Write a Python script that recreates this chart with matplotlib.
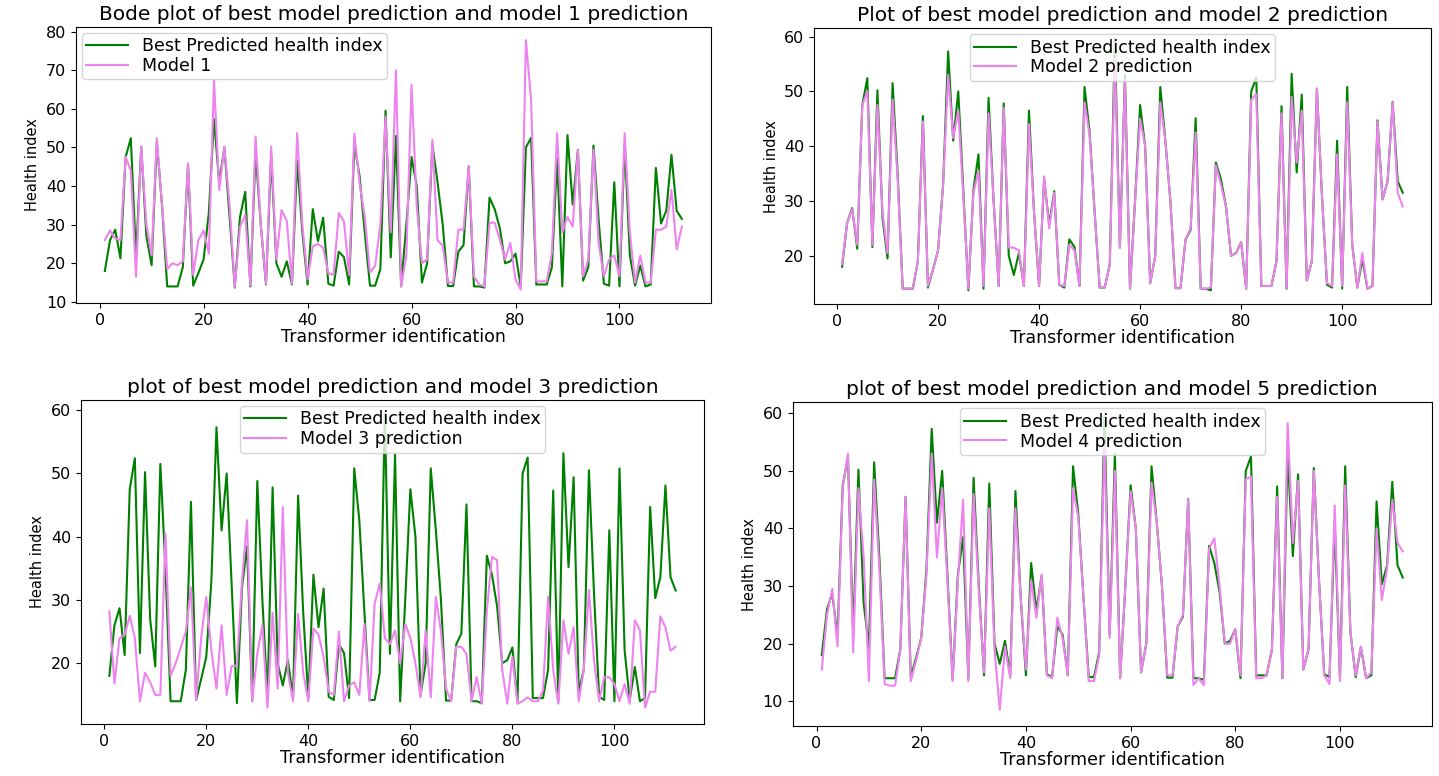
import matplotlib
matplotlib.use('Agg')
import matplotlib.pyplot as plt
import numpy as np

# transformer ids 1..112
transformer_id = np.arange(1, 113)

best = [18, 26, 28.7, 21.3, 47.5, 52.4, 21.6, 50.2, 27, 19.5,
        51.5, 35, 14, 14, 14, 19, 45.5, 14.2, 17.5, 21,
        33, 57.3, 41, 50, 32, 13.7, 32, 38.5, 14, 48.8,
        30, 14.5, 47.8, 20, 16.5, 20.5, 14.5, 46.5, 28, 14.5,
        34, 25.7, 31.8, 14.7, 14.2, 23, 21.6, 14.5, 50.8, 42.6,
        28, 14.2, 14.2, 18.5, 59.5, 21.5, 53, 14, 30, 47.5,
        40, 15, 20, 50.8, 41, 30, 14.1, 14.1, 23, 24.7,
        45.1, 14, 14, 13.7, 37, 34, 29, 20, 20.5, 22.5,
        14, 50, 52.5, 14.5, 14.5, 14.5, 19, 47.3, 14, 53.2,
        35.2, 49.4, 15.5, 19, 50.5, 31, 14.7, 14.2, 41, 14,
        50.8, 22, 14.2, 19.4, 14, 14.5, 44.7, 30.3, 33.6, 48.1,
        33.6, 31.5]

model1 = [26, 28.5, 26.4, 26, 47.6, 44, 16.5, 50.2, 30, 22,
          52.4, 35, 18.5, 20, 19.5, 20.5, 45.9, 17, 26, 28.5,
          22.6, 67.5, 39, 50.2, 35, 13.9, 29.4, 32.5, 14.3, 52.8,
          30, 14.7, 50.2, 21, 33.8, 31, 14.7, 53.7, 30, 15.8,
          24.4, 25, 24, 17.4, 17, 33, 30.8, 17, 53.6, 40.8,
          32, 17.6, 19.3, 30, 58, 28, 70, 14, 22, 66.2,
          34.8, 20, 21, 52, 26, 24.5, 15, 15, 28.7, 28.7,
          45, 16.6, 14.5, 14, 30.5, 30.5, 26, 21, 25.3, 15.8,
          13.2, 77.8, 62.3, 15.3, 15.3, 15.3, 22.7, 53.7, 28, 32,
          29.5, 49.4, 16.6, 21, 49.4, 25, 16.6, 21, 22, 16.6,
          53.7, 28, 15, 22, 15, 15, 28.7, 28.7, 29.5, 39,
          23.6, 29.5]

model2 = [18.5, 26, 28.5, 22, 47.5, 50, 22, 47.5, 28, 20.5,
          48.5, 34, 14, 14, 14, 19, 44.5, 14.5, 17.5, 21,
          33, 53, 41.5, 46.5, 31, 14, 31.5, 35.5, 14.5, 46,
          30, 14.5, 47, 21.5, 21.5, 21, 14.5, 44, 28, 14.5,
          34.5, 25, 31.5, 14.7, 14.5, 22, 21, 14.5, 48, 42,
          28, 14.2, 14.2, 18.5, 56, 21.5, 52, 14, 30, 45,
          40, 15, 20, 48, 41, 30, 14.1, 14.1, 23, 25,
          42.5, 14, 14, 14.2, 36.5, 33, 29, 20, 20.5, 22.5,
          14, 48.5, 49.5, 14.5, 14.5, 14.5, 19, 46, 14, 49,
          37, 46.5, 15.5, 19, 50.5, 31, 15, 14.5, 38.5, 14.5,
          48, 22, 14.2, 20.5, 14, 14.5, 44.5, 30.3, 33.6, 48,
          31.5, 29]

model3 = [28.2, 16.8, 24, 24.5, 27.5, 24, 14, 18.5, 17, 15,
          15, 40.5, 18, 20, 22.5, 25, 32, 14.2, 24, 30.5,
          22, 16, 26, 15, 19.6, 19.6, 33, 42.6, 14, 21.5,
          26, 13, 28, 16, 44.7, 18.5, 14, 27.8, 18.5, 14,
          25.5, 24.5, 21, 15.5, 15, 25, 14, 16.5, 17, 15,
          26.2, 14, 29.4, 32.6, 24, 23, 25.2, 20, 26.2, 24,
          20, 14.6, 25.2, 14.6, 30.5, 25, 16, 14, 22.6, 22.6,
          21.5, 14, 17.8, 13.6, 28.4, 36.8, 36.3, 19, 13.6, 21,
          13.6, 14, 14.6, 14, 14, 15.7, 30.5, 19, 13.6, 26.8,
          21.5, 25.7, 14, 19, 31.6, 20.5, 14, 17.8, 17.8, 16.7,
          14, 16.7, 13.6, 26.8, 25.2, 13, 15.5, 15.5, 27.4, 25.7,
          22, 22.6]

model4 = [15.5, 25, 29.5, 19.5, 47, 53, 18.5, 47, 35, 13.5,
          48.5, 33, 13, 12.7, 12.7, 19, 45.5, 13.5, 17, 21,
          32, 53, 35, 47, 31, 13.5, 31, 45, 13.5, 46,
          29, 15, 43.5, 19, 8.5, 19.5, 14, 43.5, 28, 15.5,
          31, 24.5, 32, 14.5, 14, 24.5, 21, 14.5, 47, 42,
          28, 13.5, 13.5, 18, 55, 21, 50, 14, 30, 46.5,
          40, 15, 20, 48, 41, 30, 14.5, 14.5, 23, 25,
          45, 12.8, 14, 12.8, 36.5, 38.3, 30, 20, 20, 22.5,
          14.5, 48.5, 49, 14, 14, 14.5, 19, 45.5, 14, 58.3,
          37.5, 48.3, 15.5, 19, 50, 31, 14.5, 13, 44, 13.5,
          47.5, 22, 14.5, 19.5, 14, 15, 40, 27.6, 33, 45,
          37.5, 36]

titles = ['Bode plot of best model prediction and model 1 prediction',
          'Plot of best model prediction and model 2 prediction',
          'plot of best model prediction and model 3 prediction',
          'plot of best model prediction and model 5 prediction']
model_labels = ['Model 1', 'Model 2 prediction', 'Model 3 prediction', 'Model 4 prediction']
models = [model1, model2, model3, model4]

boxes = [[0.0528, 0.6095, 0.4411, 0.3557],
         [0.5657, 0.6082, 0.4286, 0.3553],
         [0.0563, 0.0670, 0.4329, 0.4175],
         [0.5509, 0.0644, 0.4441, 0.4171]]
ylims = [(9.7, 81.2), (11.2, 61.5), (10.4, 61.6), (5.7, 61.9)]
legend_locs = ['upper left', 'upper center', 'upper center', 'upper center']

fig = plt.figure(figsize=(14.39, 7.76), dpi=100)

for i in range(4):
    ax = fig.add_axes(boxes[i])
    ax.plot(transformer_id, best, color='green', lw=1.5, label='Best Predicted health index')
    ax.plot(transformer_id, models[i], color='violet', lw=1.5, label=model_labels[i])
    ax.set_xlim(-4.55, 117.55)
    ax.set_ylim(*ylims[i])
    ax.set_title(titles[i], fontsize=14.5, pad=5)
    ax.set_xlabel('Transformer identification', fontsize=12.5, labelpad=0)
    ax.set_ylabel('Health index', fontsize=10.5)
    ax.tick_params(labelsize=11.5)
    ax.legend(loc=legend_locs[i], fontsize=12.5, handlelength=2.4,
              borderaxespad=0.35, borderpad=0.25, labelspacing=0.1)

plt.savefig('out.png', dpi=100)
